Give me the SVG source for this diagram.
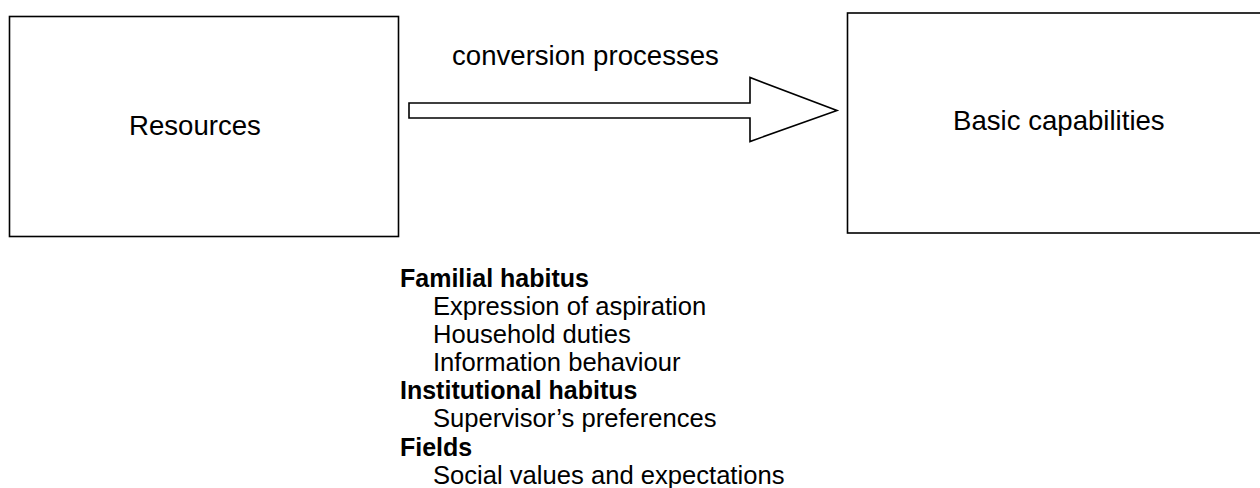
<svg xmlns="http://www.w3.org/2000/svg" width="1260" height="488" viewBox="0 0 1260 488">
  <style>
    .box { fill: #ffffff; stroke: #000000; stroke-width: 1.6; }
    .arrow { fill: #ffffff; stroke: #000000; stroke-width: 1.6; stroke-linejoin: miter; }
    .label { font-family: "Liberation Sans", Arial, sans-serif; font-size: 27.6px; fill: #000000; }
    .head { font-family: "Liberation Sans", Arial, sans-serif; font-size: 25px; font-weight: bold; fill: #000000; }
    .item { font-family: "Liberation Sans", Arial, sans-serif; font-size: 25.6px; fill: #000000; }
  </style>
  <rect width="1260" height="488" fill="#ffffff"/>

  <g id="resources">
    <rect class="box" x="9.5" y="16.5" width="389" height="220"/>
    <text class="label" x="129" y="135" font-size="27">Resources</text>
  </g>

  <g id="basic-capabilities">
    <rect class="box" x="847.5" y="13" width="430" height="220"/>
    <text class="label" x="953" y="130">Basic capabilities</text>
  </g>

  <g id="connectors">
    <!-- block arrow: conversion processes -->
    <polygon class="arrow" points="409,103 750,103 750,77.5 837,110.5 750,141.5 750,118 409,118"/>
    <text class="label" x="452" y="65">conversion processes</text>
  </g>

  <g id="factors">
    <text class="head" x="400" y="287">Familial habitus</text>
    <text class="item" x="433" y="315">Expression of aspiration</text>
    <text class="item" x="433" y="343">Household duties</text>
    <text class="item" x="433" y="371">Information behaviour</text>
    <text class="head" x="400" y="399">Institutional habitus</text>
    <text class="item" x="433" y="427">Supervisor’s preferences</text>
    <text class="head" x="400" y="456">Fields</text>
    <text class="item" x="433" y="484">Social values and expectations</text>
  </g>
</svg>
